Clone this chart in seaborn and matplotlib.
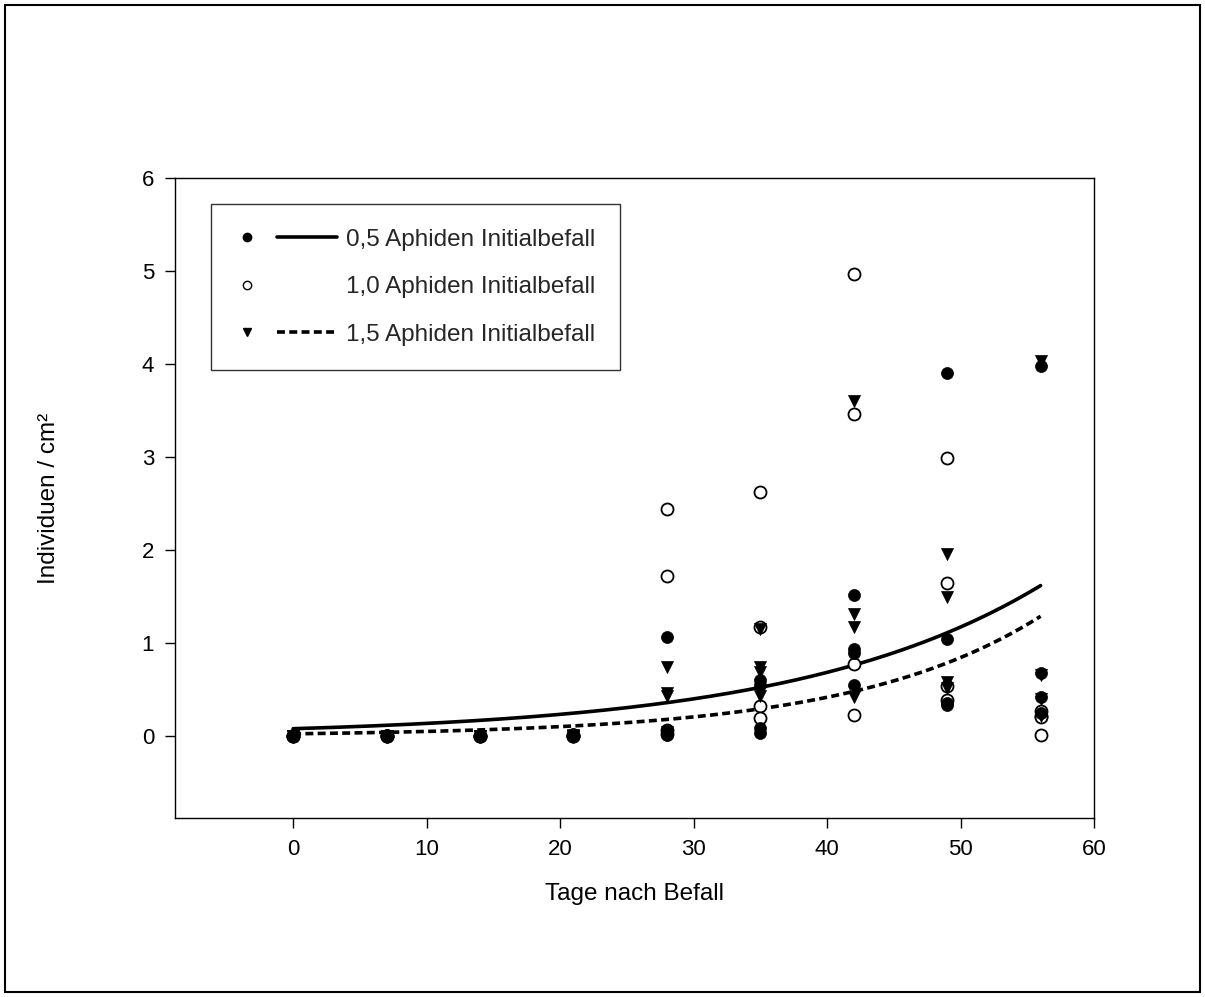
import numpy as np
import pandas as pd
import matplotlib
matplotlib.use("Agg")
import matplotlib.pyplot as plt
import seaborn as sns
from matplotlib.lines import Line2D
from matplotlib.legend_handler import HandlerBase
from matplotlib.patches import Rectangle

# ==============================
# Data
# ==============================
days = [0, 7, 14, 21, 28, 35, 42, 49, 56]

# four replicates per day and treatment
befall_05 = [
    [0.00, 0.00, 0.01, 0.00],
    [0.00, 0.00, 0.00, 0.01],
    [0.00, 0.01, 0.00, 0.00],
    [0.01, 0.02, 0.00, 0.01],
    [1.07, 0.05, 0.03, 0.01],
    [0.60, 0.55, 0.09, 0.03],
    [1.52, 0.94, 0.89, 0.55],
    [3.90, 1.04, 0.36, 0.33],
    [3.98, 0.68, 0.42, 0.25],
]
befall_10 = [
    [0.00, 0.00, 0.00, 0.00],
    [0.00, 0.00, 0.00, 0.00],
    [0.00, 0.00, 0.00, 0.00],
    [0.00, 0.01, 0.00, 0.00],
    [2.44, 1.72, 0.07, 0.02],
    [2.62, 1.17, 0.32, 0.19],
    [4.97, 3.46, 0.78, 0.23],
    [2.99, 1.65, 0.54, 0.39],
    [0.27, 0.22, 0.21, 0.01],
]
befall_15 = [
    [0.00, 0.00, 0.00, 0.00],
    [0.00, 0.00, 0.00, 0.00],
    [0.00, 0.00, 0.00, 0.00],
    [0.00, 0.00, 0.01, 0.00],
    [0.74, 0.46, 0.43, 0.04],
    [1.15, 0.74, 0.69, 0.43],
    [3.60, 1.31, 1.17, 0.42],
    [1.96, 1.50, 0.58, 0.52],
    [4.03, 0.66, 0.40, 0.22],
]

# exponential regression y = a * exp(b * t)
fit_05 = (0.080, 0.0537)
fit_15 = (0.025, 0.0704)

labels = ["0,5 Aphiden Initialbefall",
          "1,0 Aphiden Initialbefall",
          "1,5 Aphiden Initialbefall"]


def to_long(values, label):
    rows = []
    for d, reps in zip(days, values):
        for v in reps:
            rows.append({"Tage": d, "Individuen": v, "Befall": label})
    return pd.DataFrame(rows)


df05 = to_long(befall_05, labels[0])
df10 = to_long(befall_10, labels[1])
df15 = to_long(befall_15, labels[2])

t = np.linspace(0, 56, 200)
curve05 = pd.DataFrame({"Tage": t, "y": fit_05[0] * np.exp(fit_05[1] * t)})
curve15 = pd.DataFrame({"Tage": t, "y": fit_15[0] * np.exp(fit_15[1] * t)})

# ==============================
# Plot
# ==============================
sns.set_theme(style="white")
plt.rcParams["font.family"] = ["Liberation Sans", "DejaVu Sans"]
fs_tick = 16
fs_lab = 17.5

fig = plt.figure(figsize=(12.05, 9.97), dpi=100)
ax = fig.add_axes([175 / 1205, 1 - 818 / 997, (1094 - 175) / 1205, (818 - 178) / 997])

dash = (0, (2.2, 1.2))

# regression curves
sns.lineplot(data=curve05, x="Tage", y="y", ax=ax, color="black", lw=2.6,
             linestyle="-", zorder=2)
sns.lineplot(data=curve15, x="Tage", y="y", ax=ax, color="black", lw=2.6,
             linestyle=dash, zorder=2)

# scatter points
msize = 75
sns.scatterplot(data=df10, x="Tage", y="Individuen", ax=ax, marker="o",
                facecolor="white", edgecolor="black", linewidth=1.3, s=msize, zorder=3)
sns.scatterplot(data=df15, x="Tage", y="Individuen", ax=ax, marker="v",
                color="black", edgecolor="black", linewidth=0.5, s=msize, zorder=4)
sns.scatterplot(data=df05, x="Tage", y="Individuen", ax=ax, marker="o",
                color="black", edgecolor="black", linewidth=0.5, s=msize, zorder=5)

ax.set_xlim(-8.85, 60)
ax.set_ylim(-0.88, 6)
ax.set_xticks([0, 10, 20, 30, 40, 50, 60])
ax.set_yticks([0, 1, 2, 3, 4, 5, 6])
ax.tick_params(direction="out", length=7, width=1, colors="black",
               labelsize=fs_tick, pad=8, bottom=True, left=True)
for s in ax.spines.values():
    s.set_color("black")
    s.set_linewidth(1)

ax.set_xlabel("Tage nach Befall", fontsize=fs_lab, color="black", labelpad=17)
ax.set_ylabel("Individuen / cm²", fontsize=fs_lab, color="black", labelpad=59)


# legend: marker on the left, line segment on the right
class MarkerLineHandler(HandlerBase):
    def create_artists(self, legend, orig_handle, xdescent, ydescent,
                       width, height, fontsize, trans):
        mk, ln = orig_handle
        y = height / 2 - ydescent
        m = Line2D([-xdescent + 0.114 * width], [y])
        m.update_from(mk)
        m.set_linestyle("none")
        m.set_transform(trans)
        out = [m]
        if ln is not None:
            lseg = Line2D([-xdescent + 0.40 * width, -xdescent + 0.97 * width], [y, y])
            lseg.update_from(ln)
            lseg.set_marker("")
            lseg.set_transform(trans)
            out.append(lseg)
        return out


h05 = (Line2D([], [], marker="o", color="black", markersize=6, linestyle="none"),
       Line2D([], [], color="black", lw=2.6))
h10 = (Line2D([], [], marker="o", markerfacecolor="white", markeredgecolor="black",
              markersize=6, markeredgewidth=1, linestyle="none"), None)
h15 = (Line2D([], [], marker="v", color="black", markersize=6, linestyle="none"),
       Line2D([], [], color="black", lw=2.6, linestyle=dash))

leg = ax.legend([h05, h10, h15], labels, handler_map={tuple: MarkerLineHandler()},
                loc="upper left", bbox_to_anchor=(0.0392, 0.959), borderaxespad=0,
                fontsize=fs_lab, handlelength=4.32, handletextpad=0.25,
                labelspacing=1.05, borderpad=1.0, frameon=True, fancybox=False)
leg.get_frame().set_edgecolor("black")
leg.get_frame().set_linewidth(1)

# outer frame around the whole figure
fig.patches.append(Rectangle((0.004, 0.005), 0.992, 0.99, transform=fig.transFigure,
                             fill=False, edgecolor="black", linewidth=1.5))

fig.savefig("out.png", dpi=100, facecolor="white")
